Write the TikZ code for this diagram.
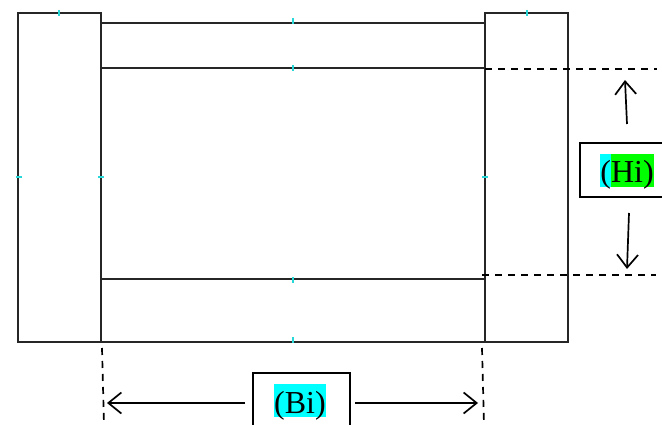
\documentclass[tikz,border=0pt]{standalone}
\usepackage{fontspec}
\setmainfont{Liberation Serif}
\usetikzlibrary{arrows.meta}
\definecolor{hlcyan}{RGB}{0,255,255}
\definecolor{hlgreen}{RGB}{0,255,0}
\definecolor{tickcyan}{RGB}{40,215,215}
\tikzset{
  wall/.style={draw=black!85, line width=2pt},
  dimline/.style={black, line width=1.7pt, dash pattern=on 7pt off 6pt},
  dimarrow/.style={black, line width=1.7pt, -{Straight Barb[length=13pt,width=21pt,line width=1.7pt]}},
  labelbox/.style={black, line width=1.8pt},
  dimlabel/.style={inner sep=0pt, anchor=base, font=\fontsize{32}{32}\selectfont},
  tick/.style={tickcyan, line width=1.6pt}
}
\begin{document}
\begin{tikzpicture}[x=1pt, y=-1pt]
  \useasboundingbox (0, 0) rectangle (662, 425);
  % columns
  \draw[wall] (18, 13) rectangle (101, 342);
  \draw[wall] (485, 13) rectangle (568, 342);
  % beam lines
  \draw[wall] (101, 23) -- (485, 23);
  \draw[wall] (101, 68) -- (485, 68);
  \draw[wall] (101, 279) -- (485, 279);
  \draw[wall] (101, 342) -- (485, 342);
  % small marks
  \foreach \x/\y in {59/13, 293/21, 293/68, 293/280, 293/340, 527/13} {
    \draw[tick] (\x, \y-3) -- (\x, \y+3);
  }
  \foreach \x/\y in {19/177, 101/177, 485/177} {
    \draw[tick] (\x-3, \y) -- (\x+3, \y);
  }
  % dashed limits
  \coordinate (hitopL) at (485, 69);
  \coordinate (hitopR) at (657, 69);
  \coordinate (hibotL) at (482, 275);
  \coordinate (hibotR) at (656, 275);
  \coordinate (bileftT) at (102, 348);
  \coordinate (bileftB) at (104, 425);
  \coordinate (birightT) at (482, 348);
  \coordinate (birightB) at (484, 425);
  \draw[dimline] (hitopL) -- (hitopR);
  \draw[dimline] (hibotL) -- (hibotR);
  \draw[dimline] (bileftT) -- (bileftB);
  \draw[dimline] (birightT) -- (birightB);
  % Hi label
  \fill[hlcyan] (600, 154) rectangle (611, 187);
  \fill[hlgreen] (611, 154) rectangle (654, 187);
  \draw[labelbox] (662, 143) -- (580, 143) -- (580, 197) -- (662, 197);
  \node[dimlabel] (hi) at (627, 183) {(Hi)};
  % Bi label
  \fill[hlcyan] (274, 384) rectangle (326, 417);
  \draw[labelbox] (253, 425) -- (253, 373) -- (350, 373) -- (350, 425);
  \node[dimlabel] (bi) at (300, 413) {(Bi)};
  % arrows
  \coordinate (hiup) at (627, 124);
  \coordinate (hiupE) at (625, 80);
  \coordinate (hidown) at (629, 213);
  \coordinate (hidownE) at (627, 269);
  \coordinate (bil) at (245, 403);
  \coordinate (bilE) at (107, 403);
  \coordinate (bir) at (355, 403);
  \coordinate (birE) at (478, 403);
  \draw[dimarrow] (hiup) -- (hiupE);
  \draw[dimarrow] (hidown) -- (hidownE);
  \draw[dimarrow] (bil) -- (bilE);
  \draw[dimarrow] (bir) -- (birE);
\end{tikzpicture}
\end{document}
